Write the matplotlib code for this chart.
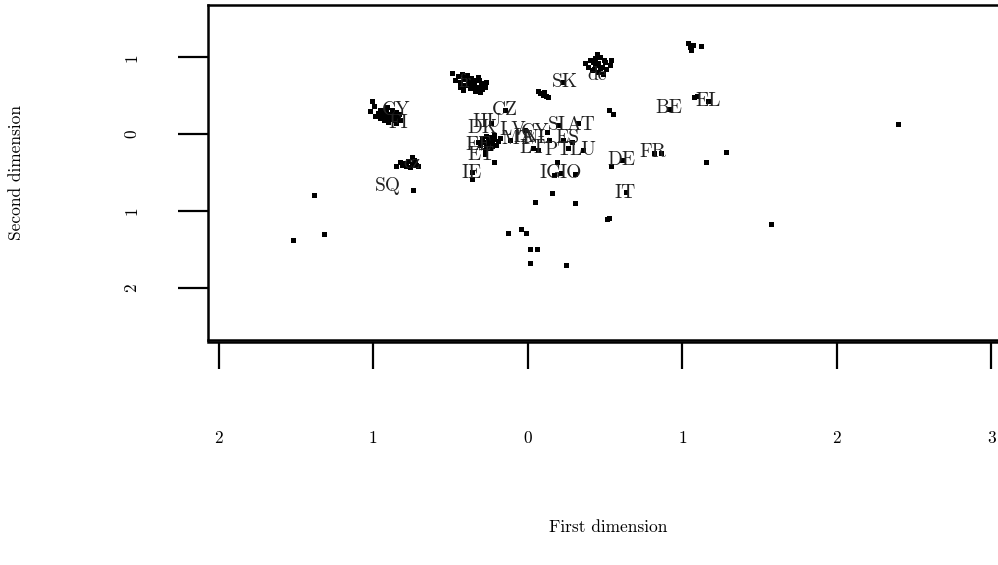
#!/usr/bin/env python3

import numpy as np
import matplotlib
matplotlib.use('Agg')
import matplotlib.pyplot as plt

plt.rcParams['font.family'] = ['cmr10', 'DejaVu Serif']
plt.rcParams['axes.formatter.use_mathtext'] = True

#------------------------------------------------------------
# scaled positions (first / second dimension)
#------------------------------------------------------------
point_x = [
    # isolated points
    -0.851, -0.747, -0.741, -0.359, -0.359, -0.275, -0.217, 0.191, 0.171, 0.217,
    0.307, 0.158, 0.049, 0.307, 0.514, 0.527, 0.540, 0.611, 0.637, -0.126,
    -0.042, -0.010, 0.016, 0.061, 0.016, 0.249, -1.523, -1.381, -1.316, 1.284,
    1.155, 0.818, 0.864, 0.915, 1.077, 1.096, 1.167, 1.038, 1.051, 1.058,
    1.070, 1.122, 2.396, 1.575, 0.527, 0.553,
    # SK group
    0.081, 0.100, 0.120, 0.068, 0.107, 0.133, 0.230,
    # de group
    0.372, 0.404, 0.450, 0.469, 0.501, 0.437, 0.469, 0.508, 0.417, 0.456,
    0.488, 0.534, 0.540, 0.437, 0.391, 0.420, 0.480, 0.455, 0.495, 0.430,
    # fr group
    -0.488, -0.450, -0.424, -0.391, -0.365, -0.333, -0.294, -0.275, -0.437, -0.404,
    -0.372, -0.340, -0.307, -0.469, -0.417, -0.385, -0.346, -0.320, -0.294, -0.268,
    -0.410, -0.355, -0.330, -0.300, -0.440, -0.380, -0.395, -0.360, -0.315,
    # left group
    -1.006, -0.993, -1.019, -0.967, -0.941, -0.915, -0.889, -0.864, -0.838, -0.954,
    -0.928, -0.902, -0.876, -0.851, -0.825, -0.922, -0.876, -0.909, -0.954, -0.851,
    -0.831, -0.986, -0.935, -0.890, -0.860, -0.905, -0.870,
    # cz group
    -0.825, -0.799, -0.773, -0.747, -0.728, -0.708, -0.786, -0.760, -0.812, -0.734,
    -0.721,
    # middle group
    -0.294, -0.268, -0.243, -0.217, -0.191, -0.281, -0.256, -0.230, -0.204, -0.307,
    -0.268, -0.243, -0.217, -0.178, -0.320, -0.256, -0.230,
    # countries in the middle
    -0.146, -0.236, -0.113, -0.016, 0.126, 0.197, 0.327, 0.230, 0.288, 0.036,
    0.068, 0.262, 0.359, 0.139, -0.262, -0.275,
]
point_y = [
    -0.416, -0.299, -0.727, -0.494, -0.584, -0.260, -0.364, -0.364, -0.532, -0.506,
    -0.519, -0.766, -0.883, -0.896, -1.104, -1.091, -0.416, -0.338, -0.753, -1.286,
    -1.234, -1.286, -1.494, -1.494, -1.675, -1.701, -1.377, -0.792, -1.299, -0.234,
    -0.364, -0.247, -0.247, 0.325, 0.481, 0.494, 0.429, 1.182, 1.130, 1.091,
    1.156, 1.143, 0.130, -1.169, 0.312, 0.260,
    0.532, 0.506, 0.494, 0.558, 0.545, 0.481, 0.675,
    0.922, 0.961, 1.039, 1.000, 0.935, 0.896, 0.857, 0.844, 0.831, 0.805,
    0.779, 0.896, 0.961, 0.987, 0.870, 0.940, 0.870, 0.920, 0.960, 0.850,
    0.792, 0.753, 0.779, 0.766, 0.727, 0.701, 0.662, 0.610, 0.675, 0.636,
    0.597, 0.558, 0.545, 0.701, 0.571, 0.701, 0.636, 0.740, 0.584, 0.675,
    0.720, 0.680, 0.620, 0.640, 0.620, 0.660, 0.740, 0.600, 0.700,
    0.429, 0.364, 0.299, 0.273, 0.312, 0.286, 0.260, 0.234, 0.208, 0.208,
    0.182, 0.156, 0.195, 0.143, 0.182, 0.247, 0.312, 0.351, 0.312, 0.286,
    0.260, 0.234, 0.280, 0.230, 0.190, 0.200, 0.260,
    -0.364, -0.377, -0.351, -0.390, -0.364, -0.416, -0.416, -0.429, -0.403, -0.338,
    -0.403,
    -0.052, -0.026, -0.039, -0.065, -0.091, -0.104, -0.130, -0.104, -0.143, -0.143,
    -0.169, -0.182, -0.013, -0.052, -0.104, -0.078, -0.156,
    0.312, 0.143, -0.078, 0.052, 0.026, 0.117, 0.143, -0.078, -0.104, -0.182,
    -0.208, -0.182, -0.208, -0.078, -0.156, -0.208,
]

label_text = ['fr', 'de', 'cz', 'CY', 'FI',
              'SK', 'BE', 'EL', 'FR', 'DE', 'IT', 'IG', 'IO', 'SQ', 'IE',
              'ET', 'CZ', 'HU', 'DK', 'LV', 'CY', 'SI', 'AT', 'MT', 'EE',
              'NL', 'ES', 'LT', 'PT', 'LU', 'IA']
label_x = [-0.404, 0.450, -0.747, -0.850, -0.840,
           0.243, 0.915, 1.167, 0.812, 0.605, 0.631, 0.150, 0.275, -0.909, -0.365,
           -0.301, -0.146, -0.262, -0.294, -0.100, 0.049, 0.191, 0.340, -0.068, -0.320,
           0.061, 0.255, 0.029, 0.197, 0.359, -0.020]
label_y = [0.675, 0.766, -0.377, 0.310, 0.150,
           0.675, 0.338, 0.429, -0.234, -0.338, -0.766, -0.506, -0.506, -0.675, -0.506,
           -0.273, 0.312, 0.156, 0.078, 0.052, 0.026, 0.117, 0.117, -0.065, -0.143,
           -0.052, -0.052, -0.182, -0.208, -0.208, -0.040]

x_ticks = [-2, -1, 0, 1, 2, 3]
x_tick_labels = ['2', '1', '0', '1', '2', '3']
y_ticks = [1, 0, -1, -2]
y_tick_labels = ['1', '0', '1', '2']

#------------------------------------------------------------
#------------------------------------------------------------
fig = plt.figure(figsize=(9.98, 5.65), dpi=100)
ax = fig.add_axes([0.2084, 0.398, 0.802, 0.593])

for t, x, y in zip(label_text, label_x, label_y):
    ax.text(x, y, t, fontsize=14, ha='center', va='center', color='#222222')

ax.plot(point_x, point_y, linestyle='None', marker='s', markersize=3.6,
        color='black', markeredgewidth=0)

ax.set_xlim(-2.07, 3.11)
ax.set_ylim(-2.68, 1.68)

for s in ax.spines.values():
    s.set_linewidth(1.8)

ax.set_xticks([])
ax.set_yticks(y_ticks)
ax.set_yticklabels(y_tick_labels, rotation=90, va='center')
ax.tick_params(axis='y', length=21.5, width=1.6, pad=28, labelsize=12.5)
ax.set_ylabel("Second dimension", fontsize=12.5, labelpad=72)

sec = ax.secondary_xaxis(-0.006)
sec.spines['bottom'].set_linewidth(1.8)
sec.set_xticks(x_ticks)
sec.set_xticklabels(x_tick_labels)
sec.tick_params(axis='x', length=19.5, width=1.6, pad=44, labelsize=12.5)
sec.set_xlabel("First dimension", fontsize=12.5, labelpad=53)

plt.savefig("out.png", dpi=100)
